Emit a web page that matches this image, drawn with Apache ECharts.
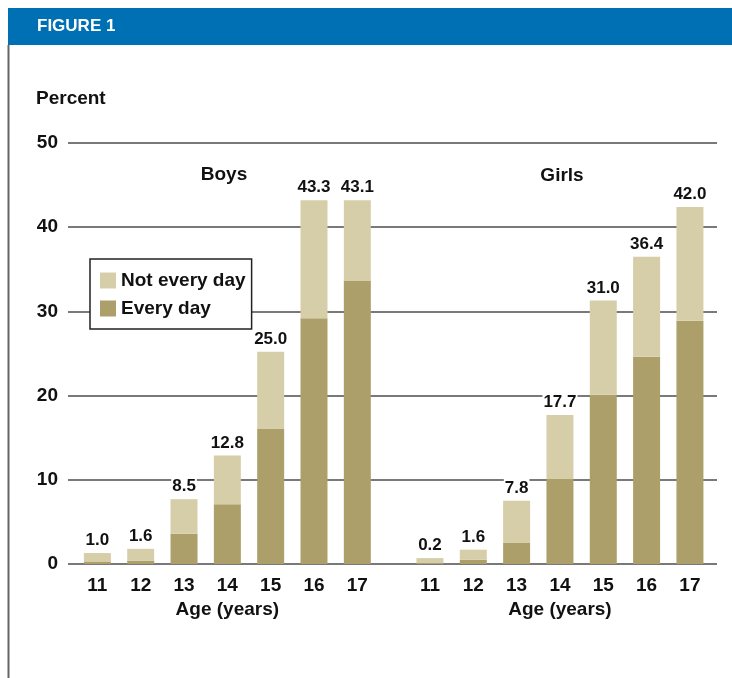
<!DOCTYPE html>
<html><head><meta charset="utf-8">
<script src="https://cdn.jsdelivr.net/npm/echarts@6/dist/echarts.min.js"></script>
<style>html,body{margin:0;padding:0;background:#fff}#c{width:732px;height:678px}</style>
</head><body><div id="c"></div>
<script>
// ---- data ----
const ages = ['11', '12', '13', '14', '15', '16', '17'];
const boysEveryDay = [0.3, 0.4, 3.6, 7.1, 16.1, 29.2, 33.6];
const boysNotEveryDay = [1.0, 1.4, 4.1, 5.8, 9.1, 14.0, 9.6];
const boysTotalLabels = ['1.0', '1.6', '8.5', '12.8', '25.0', '43.3', '43.1'];
const girlsEveryDay = [0.1, 0.5, 2.5, 10.1, 20.1, 24.6, 28.9];
const girlsNotEveryDay = [0.6, 1.2, 5.0, 7.6, 11.2, 11.9, 13.5];
const girlsTotalLabels = ['0.2', '1.6', '7.8', '17.7', '31.0', '36.4', '42.0'];
const seriesNames = ['Not every day', 'Every day'];
const groupNames = ['Boys', 'Girls'];
const axisTitle = 'Age (years)';
const yTitle = 'Percent';
const figTitle = 'FIGURE 1';

// ---- style ----
const FONT = "'Liberation Sans', Arial, sans-serif";
const LIGHT = '#d6cea9';
const DARK = '#ad9f69';
const INK = '#111';

const chart = echarts.init(document.getElementById('c'), null, {renderer: 'canvas'});

function xCat(gridIndex) {
  return {
    type: 'category', gridIndex, data: ages,
    axisLine: {show: false}, axisTick: {show: false},
    axisLabel: {color: INK, fontFamily: FONT, fontWeight: 'bold', fontSize: 19, margin: 12},
    name: axisTitle, nameLocation: 'middle', nameGap: 33,
    nameTextStyle: {color: INK, fontFamily: FONT, fontWeight: 'bold', fontSize: 19}
  };
}
function yHidden(gridIndex) {
  return {type: 'value', gridIndex, min: 0, max: 50, interval: 10, show: false, splitLine: {show: false}};
}
function valueLabel(labels) {
  return {
    show: true, position: 'top', distance: 4,
    formatter: p => labels[p.dataIndex],
    color: INK, fontFamily: FONT, fontWeight: 'bold', fontSize: 17,
    backgroundColor: '#fff', padding: [1, 1, 0, 1]
  };
}

const option = {
  animation: false,
  backgroundColor: '#fff',
  grid: [
    {left: 68, right: 15, top: 143, bottom: 114},
    {left: 75.7, width: 303.3, top: 143, bottom: 114},
    {left: 408.3, width: 303.3, top: 143, bottom: 114}
  ],
  xAxis: [
    {type: 'value', gridIndex: 0, min: 0, max: 1, show: false, splitLine: {show: false}},
    xCat(1),
    xCat(2)
  ],
  yAxis: [
    {
      type: 'value', gridIndex: 0, min: 0, max: 50, interval: 10,
      axisLine: {show: false}, axisTick: {show: false},
      axisLabel: {color: INK, fontFamily: FONT, fontWeight: 'bold', fontSize: 19, margin: 10},
      splitLine: {show: true, lineStyle: {color: '#4d4d4d', width: 1.6}}
    },
    yHidden(1),
    yHidden(2)
  ],
  legend: {
    data: seriesNames, orient: 'vertical', left: 90, top: 259,
    icon: 'rect', itemWidth: 16, itemHeight: 16, itemGap: 9,
    padding: [12, 6, 11, 10],
    borderColor: '#222', borderWidth: 1.5, backgroundColor: '#fff',
    selectedMode: false,
    textStyle: {color: INK, fontFamily: FONT, fontWeight: 'bold', fontSize: 19}
  },
  graphic: [
    {type: 'rect', shape: {x: 8, y: 8, width: 724, height: 37}, style: {fill: '#0070b4'}, silent: true},
    {type: 'line', shape: {x1: 8.5, y1: 45, x2: 8.5, y2: 678}, style: {stroke: '#666', lineWidth: 2}, silent: true},
    {type: 'text', left: 37, top: 18, style: {text: figTitle, fill: '#fff', font: "bold 17px " + FONT}},
    {type: 'text', left: 36, top: 89, style: {text: yTitle, fill: INK, font: "bold 19px " + FONT}},
    {type: 'text', x: 224, y: 175, style: {text: groupNames[0], fill: INK, font: "bold 19px " + FONT, align: 'center', verticalAlign: 'middle'}},
    {type: 'text', x: 562, y: 176, style: {text: groupNames[1], fill: INK, font: "bold 19px " + FONT, align: 'center', verticalAlign: 'middle'}}
  ],
  series: [
    {name: seriesNames[1], type: 'bar', xAxisIndex: 1, yAxisIndex: 1, stack: 'boys', barWidth: 27,
     itemStyle: {color: DARK}, data: boysEveryDay},
    {name: seriesNames[0], type: 'bar', xAxisIndex: 1, yAxisIndex: 1, stack: 'boys', barWidth: 27,
     itemStyle: {color: LIGHT}, data: boysNotEveryDay, label: valueLabel(boysTotalLabels)},
    {name: seriesNames[1], type: 'bar', xAxisIndex: 2, yAxisIndex: 2, stack: 'girls', barWidth: 27,
     itemStyle: {color: DARK}, data: girlsEveryDay},
    {name: seriesNames[0], type: 'bar', xAxisIndex: 2, yAxisIndex: 2, stack: 'girls', barWidth: 27,
     itemStyle: {color: LIGHT}, data: girlsNotEveryDay, label: valueLabel(girlsTotalLabels)}
  ]
};
chart.setOption(option);
</script>
</body></html>
